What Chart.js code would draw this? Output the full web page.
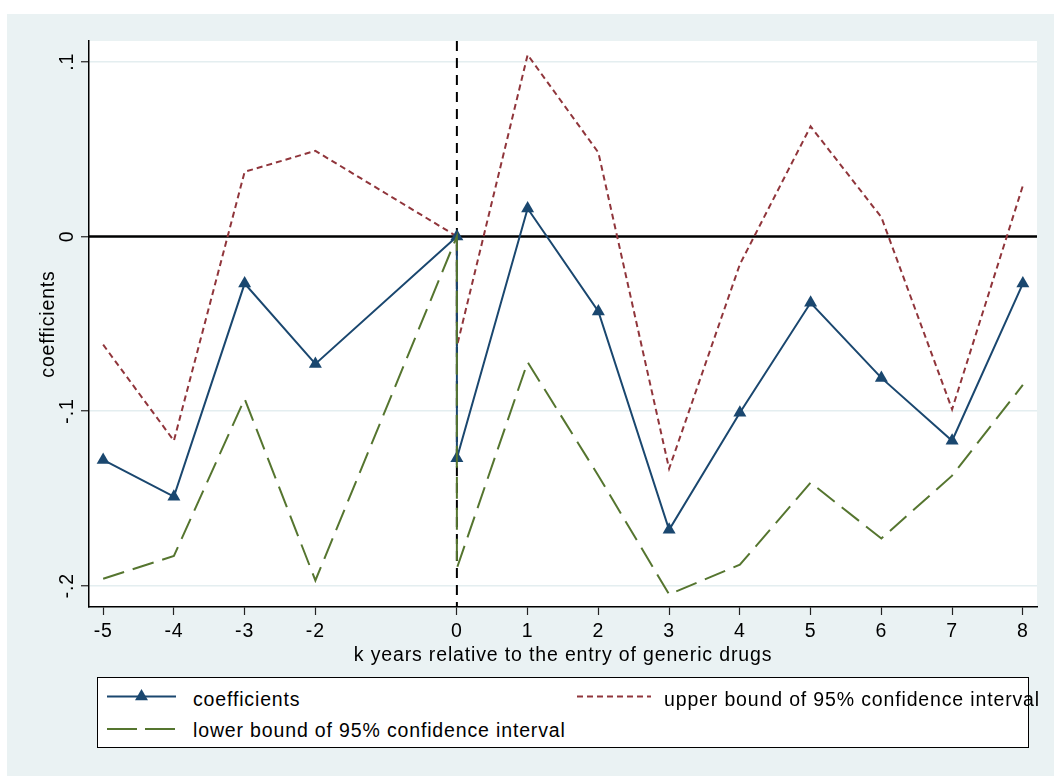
<!DOCTYPE html>
<html><head><meta charset="utf-8">
<script src="https://cdn.jsdelivr.net/npm/chart.js@4"></script>
<style>
html,body{margin:0;padding:0;background:#fff;width:1054px;height:776px;overflow:hidden;}
#bg{position:absolute;left:7px;top:14px;width:1047px;height:762px;background:#eaf2f3;}
#c{position:absolute;left:7px;top:14px;}
.lg{position:absolute;font-family:"Liberation Sans",Arial,Helvetica,sans-serif;font-size:19.5px;letter-spacing:0.85px;line-height:22px;color:#000;white-space:nowrap;}
#legendBox{position:absolute;left:97px;top:677px;width:930px;height:69px;border:1px solid #000;background:#fff;}
#legendSvg{position:absolute;left:0;top:0;}
</style></head><body>
<div id="bg"></div>
<canvas id="c" width="1047" height="762"></canvas>
<div id="legendBox"></div>
<svg id="legendSvg" width="1054" height="776"></svg>
<div class="lg" id="lt0" style="left:193px;top:688px;"></div>
<div class="lg" id="lt1" style="left:664px;top:688px;"></div>
<div class="lg" id="lt2" style="left:193px;top:719px;"></div>
<script>
// ---- data ----
const xValues      = [-5, -4, -3, -2, 0, 0, 1, 2, 3, 4, 5, 6, 7, 8];
const coefficients = [-0.128, -0.149, -0.027, -0.073, 0, -0.127, 0.016, -0.043, -0.168, -0.101, -0.038, -0.081, -0.117, -0.027];
const upperBound   = [-0.062, -0.117, 0.037, 0.049, 0, -0.063, 0.104, 0.048, -0.133, -0.016, 0.063, 0.011, -0.099, 0.029];
const lowerBound   = [-0.196, -0.183, -0.093, -0.197, 0, -0.190, -0.072, -0.137, -0.205, -0.188, -0.141, -0.173, -0.137, -0.085];
const xTickValues  = [-5, -4, -3, -2, 0, 1, 2, 3, 4, 5, 6, 7, 8];
const yTickValues  = [0.1, 0, -0.1, -0.2];
const yTickLabels  = ['.1', '0', '-.1', '-.2'];
const seriesNames  = ['coefficients', 'upper bound of 95% confidence interval', 'lower bound of 95% confidence interval'];
const xTitle = 'k years relative to the entry of generic drugs';
const yTitle = 'coefficients';
const refX = 0, refY = 0;

const FONT = '"Liberation Sans", Arial, Helvetica, sans-serif';
const FS = 19.5;
const LS = '0.85px';
const NAVY = '#1a476f', MAROON = '#90353b', GREEN = '#55752f';

const toPts = ys => xValues.map((x, i) => ({x: x, y: ys[i]}));

const spacingPlugin = {
  id: 'spacing',
  beforeLayout(chart) { chart.ctx.letterSpacing = LS; },
  beforeDraw(chart) {
    const ctx = chart.ctx, a = chart.chartArea;
    ctx.letterSpacing = LS;
    ctx.save();
    ctx.fillStyle = '#ffffff';
    ctx.fillRect(a.left, a.top, a.right - a.left, a.bottom - a.top);
    ctx.restore();
  }
};
const refPlugin = {
  id: 'refLines',
  beforeDatasetsDraw(chart) {
    const ctx = chart.ctx, a = chart.chartArea;
    const xs = chart.scales.x, ys = chart.scales.y;
    ctx.save();
    const py = ys.getPixelForValue(refY);
    ctx.strokeStyle = '#000'; ctx.lineWidth = 2.5;
    ctx.beginPath(); ctx.moveTo(a.left, py); ctx.lineTo(a.right, py); ctx.stroke();
    const px = xs.getPixelForValue(refX);
    ctx.lineWidth = 2; ctx.setLineDash([10, 7]);
    ctx.beginPath(); ctx.moveTo(px, a.top); ctx.lineTo(px, a.bottom); ctx.stroke();
    ctx.restore();
  }
};
const yLabelPlugin = {
  id: 'yLabels',
  afterDraw(chart) {
    const ctx = chart.ctx, ys = chart.scales.y;
    ctx.save();
    ctx.letterSpacing = LS;
    ctx.font = FS + 'px ' + FONT;
    ctx.fillStyle = '#000';
    ctx.textAlign = 'center';
    ctx.textBaseline = 'alphabetic';
    yTickValues.forEach((v, i) => {
      const py = ys.getPixelForValue(v);
      ctx.save();
      ctx.translate(66, py);
      ctx.rotate(-Math.PI / 2);
      ctx.fillText(yTickLabels[i], 0, 0);
      ctx.restore();
    });
    ctx.restore();
  }
};

new Chart(document.getElementById('c'), {
  type: 'line',
  data: {
    datasets: [
      {label: seriesNames[0], data: toPts(coefficients), borderColor: NAVY, backgroundColor: NAVY,
       borderWidth: 2, pointStyle: 'triangle', pointRadius: 7.5, pointBorderWidth: 0, pointBackgroundColor: NAVY, order: 2},
      {label: seriesNames[1], data: toPts(upperBound), borderColor: MAROON, borderWidth: 2,
       borderDash: [6, 4], pointRadius: 0, order: 3},
      {label: seriesNames[2], data: toPts(lowerBound), borderColor: GREEN, borderWidth: 2,
       borderDash: [22, 9], pointRadius: 0, order: 1}
    ]
  },
  options: {
    responsive: false, animation: false, devicePixelRatio: 1,
    layout: {padding: {left: 0, right: 17, top: 27, bottom: 109}},
    plugins: {legend: {display: false}, tooltip: {enabled: false}},
    elements: {line: {tension: 0}},
    scales: {
      x: {
        type: 'linear', min: -5.2, max: 8.2,
        afterBuildTicks: s => { s.ticks = xTickValues.map(v => ({value: v})); },
        afterFit: s => { s.height = 60; },
        grid: {display: true, drawOnChartArea: false, drawTicks: true, tickLength: 8, tickColor: '#222', tickWidth: 1.2},
        border: {display: true, color: '#000', width: 1.5},
        ticks: {padding: 4.8, color: '#000', font: {family: FONT, size: FS}, maxRotation: 0, autoSkip: false,
                callback: v => String(v)},
        title: {display: true, text: xTitle, color: '#000', font: {family: FONT, size: FS}, padding: {top: 2.1, bottom: 0}}
      },
      y: {
        type: 'linear', min: -0.2122, max: 0.1119,
        afterBuildTicks: s => { s.ticks = yTickValues.map(v => ({value: v})); },
        afterFit: s => { s.width = 82; },
        grid: {display: true, drawOnChartArea: true, color: '#e4eef0', lineWidth: 1.5, drawTicks: true, tickLength: 8, tickColor: '#222', tickWidth: 1.2},
        border: {display: true, color: '#000', width: 1.5},
        ticks: {display: false},
        title: {display: true, text: yTitle, color: '#000', font: {family: FONT, size: FS}, padding: {top: 29.5, bottom: 0}}
      }
    }
  },
  plugins: [spacingPlugin, refPlugin, yLabelPlugin]
});

// ---- legend ----
document.getElementById('lt0').textContent = seriesNames[0];
document.getElementById('lt1').textContent = seriesNames[1];
document.getElementById('lt2').textContent = seriesNames[2];
const svg = document.getElementById('legendSvg');
const NS = 'http://www.w3.org/2000/svg';
function seg(x1, x2, y, color, dash) {
  const l = document.createElementNS(NS, 'line');
  l.setAttribute('x1', x1); l.setAttribute('x2', x2); l.setAttribute('y1', y); l.setAttribute('y2', y);
  l.setAttribute('stroke', color); l.setAttribute('stroke-width', 2);
  if (dash) l.setAttribute('stroke-dasharray', dash);
  svg.appendChild(l);
}
seg(107, 176, 696.5, NAVY, null);
const tri = document.createElementNS(NS, 'polygon');
const cx = 141.5, cy = 696.5, r = 7.5;
tri.setAttribute('points', `${cx},${cy - r} ${cx + r * 0.866},${cy + r / 2} ${cx - r * 0.866},${cy + r / 2}`);
tri.setAttribute('fill', NAVY);
svg.appendChild(tri);
seg(577, 651, 696.5, MAROON, '6 4');
seg(107, 176, 729, GREEN, '30 8');
</script>
</body></html>
